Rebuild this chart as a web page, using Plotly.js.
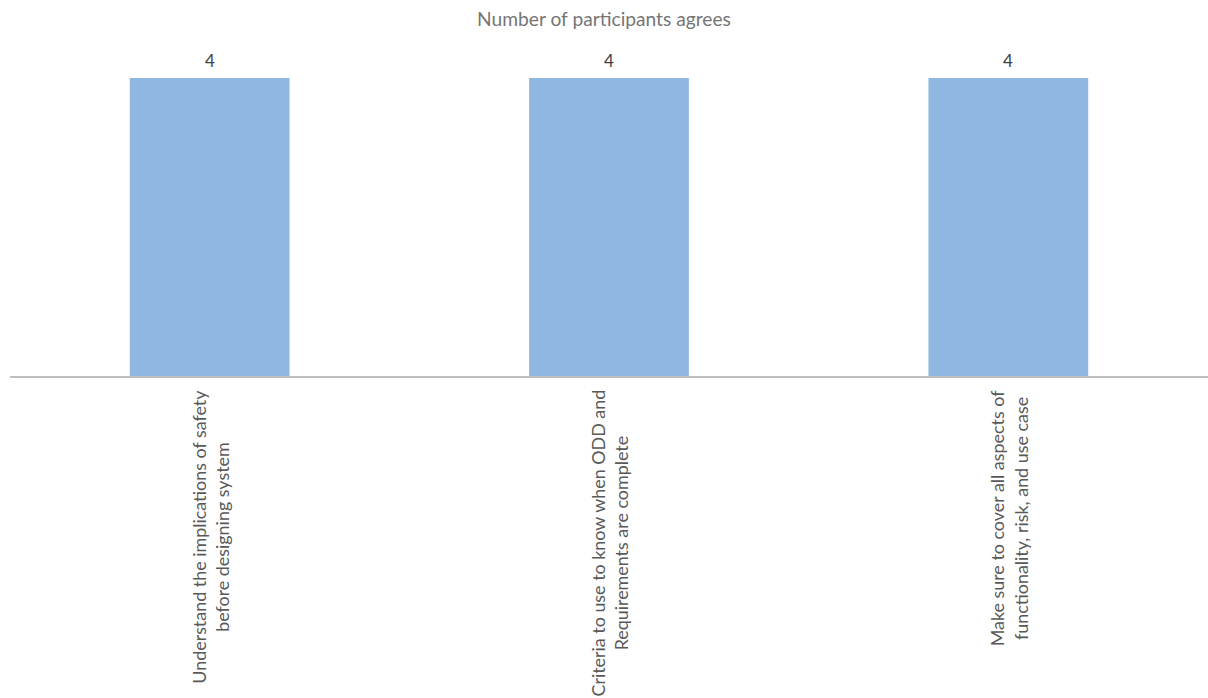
<!DOCTYPE html>
<html>
<head>
<meta charset="utf-8">
<script src="https://cdn.plot.ly/plotly-3.0.1.min.js"></script>
<style>body{margin:0;padding:0;background:#fff;} #chart{width:1208px;height:698px;}</style>
</head>
<body>
<div id="chart"></div>
<script>
const categories = [
  "Understand the implications of safety<br>before designing system",
  "Criteria to use to know when ODD and<br>Requirements are complete",
  "Make sure to cover all aspects of<br>functionality, risk, and use case"
];
const values = [4, 4, 4];
const chartTitle = "Number of participants agrees";

const FONT = "Lato, 'Open Sans', sans-serif";
const xIdx = categories.map((c, i) => i);

const trace = {
  type: 'bar',
  x: xIdx,
  y: values,
  marker: {color: '#8EB7E2'},
  hoverinfo: 'none'
};

const valueLabels = values.map((v, i) => ({
  x: i, xref: 'x', y: v, yref: 'y', yshift: 18,
  text: String(v), showarrow: false,
  xanchor: 'center', yanchor: 'middle',
  font: {family: FONT, size: 17, color: '#404040'}
}));

const catLabels = categories.map((c, i) => ({
  x: i, xref: 'x',
  y: 1, yref: 'paper', yshift: -310,
  text: c,
  textangle: -90,
  showarrow: false,
  xanchor: 'center', yanchor: 'top',
  align: 'center',
  font: {family: FONT, size: 17.9, color: '#595959'}
}));

const layout = {
  width: 1208, height: 698,
  margin: {l: 10, r: 0, t: 78, b: 322},
  paper_bgcolor: '#fff', plot_bgcolor: '#fff',
  title: {text: chartTitle, x: 0.5, xanchor: 'center', y: 1 - 19/698, yanchor: 'middle',
          font: {family: FONT, size: 19.2, color: '#757575'}},
  bargap: 0.6,
  showlegend: false,
  xaxis: {
    range: [-0.5, 2.5],
    showticklabels: false, ticks: '', showgrid: false, zeroline: false,
    showline: true, linecolor: '#BFBFBF', linewidth: 2, fixedrange: true
  },
  yaxis: {
    range: [0, 4], visible: false, showgrid: false, zeroline: false, fixedrange: true
  },
  annotations: valueLabels.concat(catLabels)
};

Plotly.newPlot('chart', [trace], layout, {displayModeBar: false, staticPlot: true});
</script>
</body>
</html>
